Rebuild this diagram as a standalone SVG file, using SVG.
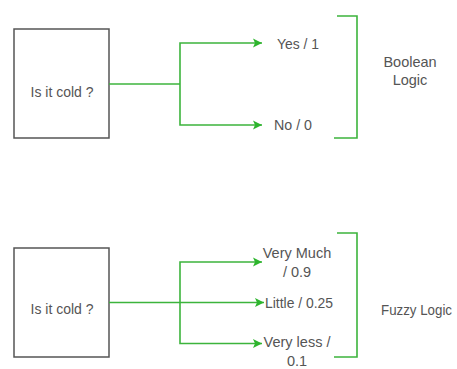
<svg xmlns="http://www.w3.org/2000/svg" width="457" height="369" viewBox="0 0 457 369">
<style>
.box{fill:#fff;stroke:#555;stroke-width:1.5}
.ln{fill:none;stroke:#3cb43c;stroke-width:1.6}
.br{fill:none;stroke:#3cb43c;stroke-width:1.6}
text{font-family:"Liberation Sans",Arial,sans-serif;font-size:14.5px;fill:#555}
.m{text-anchor:middle}
</style>
<defs>
<marker id="ah" markerWidth="12" markerHeight="12" refX="10" refY="6" orient="auto" markerUnits="userSpaceOnUse">
<path d="M1,1.5 L10,6 L1,10.5 L3,6 Z" fill="#2db52d"/>
</marker>
</defs>
<rect width="457" height="369" fill="#fff"/>
<g id="q1"><rect class="box" x="14" y="29" width="95" height="109"/><text class="m" x="62" y="97" textLength="63" lengthAdjust="spacingAndGlyphs">Is it cold ?</text></g>
<g id="yes"><text x="277" y="49" textLength="42" lengthAdjust="spacingAndGlyphs">Yes / 1</text></g>
<g id="no"><text x="274" y="130" textLength="38" lengthAdjust="spacingAndGlyphs">No / 0</text></g>
<g id="boolean"><text class="m" x="410" y="67">Boolean</text><text class="m" x="410" y="85">Logic</text></g>
<g id="q2"><rect class="box" x="14" y="248" width="95" height="109"/><text class="m" x="62" y="314" textLength="63" lengthAdjust="spacingAndGlyphs">Is it cold ?</text></g>
<g id="verymuch"><text class="m" x="297" y="258">Very Much</text><text class="m" x="297" y="277">/ 0.9</text></g>
<g id="little"><text x="265" y="308" textLength="68" lengthAdjust="spacingAndGlyphs">Little / 0.25</text></g>
<g id="veryless"><text class="m" x="297" y="347">Very less /</text><text class="m" x="297" y="366">0.1</text></g>
<g id="fuzzy"><text x="381" y="315" textLength="71" lengthAdjust="spacingAndGlyphs">Fuzzy Logic</text></g>
<g id="connectors">
<path class="ln" d="M109,84 H180"/>
<path class="ln" d="M180,84 V43 H262" marker-end="url(#ah)"/>
<path class="ln" d="M180,84 V125 H262" marker-end="url(#ah)"/>
<path class="ln" d="M109,302.5 H264" marker-end="url(#ah)"/>
<path class="ln" d="M180,302.5 V262 H262" marker-end="url(#ah)"/>
<path class="ln" d="M180,302.5 V343.5 H262" marker-end="url(#ah)"/>
<path class="br" d="M337,16 H357 V138 H334"/>
<path class="br" d="M337,233 H357 V357 H334"/>
</g>
</svg>
